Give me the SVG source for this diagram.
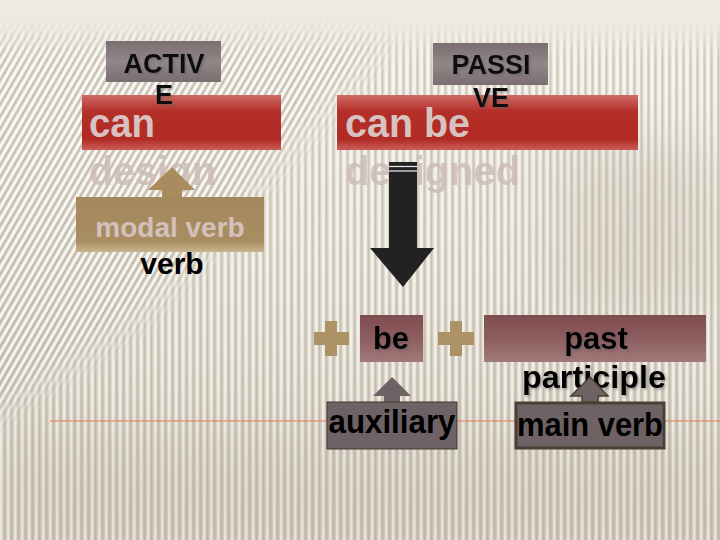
<svg xmlns="http://www.w3.org/2000/svg" width="720" height="540" viewBox="0 0 720 540">
<defs>
<linearGradient id="bg" x1="0" y1="0" x2="0" y2="1">
<stop offset="0" stop-color="#efebe3"/>
<stop offset="0.5" stop-color="#e4dfd4"/>
<stop offset="1" stop-color="#d3ccbe"/>
</linearGradient>
<pattern id="vstripe" width="7" height="10" patternUnits="userSpaceOnUse">
<rect x="0" y="0" width="2.5" height="10" fill="#ffffff" opacity="0.55"/>
<rect x="3.5" y="0" width="2" height="10" fill="#a09682" opacity="0.4"/>
</pattern>
<pattern id="dstripe" width="7" height="20" patternUnits="userSpaceOnUse" patternTransform="skewX(-30)">
<rect x="0" y="0" width="2.5" height="20" fill="#ffffff" opacity="0.8"/>
<rect x="3.5" y="0" width="2" height="20" fill="#9a907c" opacity="0.55"/>
</pattern>
<filter id="blur12" x="-50%" y="-50%" width="200%" height="200%"><feGaussianBlur stdDeviation="12"/></filter>
<filter id="blur20" x="-50%" y="-50%" width="200%" height="200%"><feGaussianBlur stdDeviation="20"/></filter>
<filter id="blur25" x="-50%" y="-50%" width="200%" height="200%"><feGaussianBlur stdDeviation="25"/></filter>
<mask id="mD"><polygon points="-40,40 390,40 140,320 -40,440" fill="#fff" filter="url(#blur12)"/></mask>
<mask id="mV"><rect x="-50" y="40" width="820" height="560" fill="#fff" filter="url(#blur12)"/><polygon points="-40,40 390,40 140,320 -40,440" fill="#000" filter="url(#blur12)"/></mask>
<filter id="sh" x="-10%" y="-10%" width="120%" height="130%"><feDropShadow dx="1.5" dy="1.5" stdDeviation="0.8" flood-color="#555" flood-opacity="0.5"/></filter>
<linearGradient id="gray" x1="0" y1="0" x2="0" y2="1">
<stop offset="0" stop-color="#7a6e70"/>
<stop offset="0.5" stop-color="#928688"/>
<stop offset="1" stop-color="#7a6e70"/>
</linearGradient>
<linearGradient id="red" x1="0" y1="0" x2="0" y2="1">
<stop offset="0" stop-color="#d06a66"/>
<stop offset="0.3" stop-color="#b42f28"/>
<stop offset="0.8" stop-color="#b12a24"/>
<stop offset="1" stop-color="#c85e58"/>
</linearGradient>
<linearGradient id="tan" x1="0" y1="0" x2="0" y2="1">
<stop offset="0" stop-color="#a5895c"/>
<stop offset="0.8" stop-color="#a88d62"/>
<stop offset="1" stop-color="#c9b48e"/>
</linearGradient>
<linearGradient id="mauve" x1="0" y1="0" x2="0" y2="1">
<stop offset="0" stop-color="#7f4c50"/>
<stop offset="0.5" stop-color="#8e5d60"/>
<stop offset="1" stop-color="#a07a7a"/>
</linearGradient>
<style>
text{font-family:"Liberation Sans",Arial,sans-serif;font-weight:bold}
.lbl{font-size:27px;fill:#111;text-anchor:middle}
.big{font-size:41px;fill:#d8c2c1}
.ghost{font-size:41px;fill:#cdbcbb;opacity:0.85}
.sub{font-size:30px;fill:#000;text-anchor:middle}
.box{font-size:31px;fill:#000;text-anchor:middle}
.plus{fill:#ad9265}
.gbox{fill:#6e6264}
</style>
</defs>
<rect width="720" height="540" fill="url(#bg)"/>
<rect width="720" height="540" fill="url(#vstripe)" mask="url(#mV)"/>
<rect width="720" height="540" fill="url(#dstripe)" mask="url(#mD)"/>
<path d="M560,150 Q640,135 720,150 V300 Q640,320 560,300 Z" fill="#b8ae9c" opacity="0.25" filter="url(#blur25)"/>
<rect x="0" y="430" width="720" height="110" fill="#b8ae9c" opacity="0.18" filter="url(#blur25)"/>

<g id="can-design">
<rect x="82" y="95" width="199" height="55" fill="url(#red)"/>
<text class="big" x="89" y="137" textLength="66" lengthAdjust="spacingAndGlyphs">can</text>
<text class="ghost" x="89" y="185" textLength="127" lengthAdjust="spacingAndGlyphs">design</text>
</g>
<g id="can-be-designed">
<rect x="337" y="95" width="301" height="55" fill="url(#red)"/>
<text class="big" x="345" y="137" textLength="125" lengthAdjust="spacingAndGlyphs">can be</text>
<text class="ghost" x="345" y="185" textLength="175" lengthAdjust="spacingAndGlyphs">designed</text>
</g>
<g id="active-label">
<rect x="106" y="41" width="115" height="41" fill="url(#gray)"/>
<text class="lbl" x="164" y="73" filter="url(#sh)">ACTIV</text>
<text class="lbl" x="164" y="104" filter="url(#sh)">E</text>
</g>
<g id="passive-label">
<rect x="433" y="43" width="115" height="42" fill="url(#gray)"/>
<text class="lbl" x="491" y="74" filter="url(#sh)">PASSI</text>
<text class="lbl" x="491" y="107" filter="url(#sh)">VE</text>
</g>

<g id="connectors">
<line x1="50" y1="421" x2="720" y2="421" stroke="#e07a5a" stroke-width="1.2"/>
<path d="M162,197 V190 H148 L172,167 L195,190 H182 V197 Z" fill="#a88c5e"/>
<path d="M389,162 H417 V248 H434 L403,287 L370,248 H389 Z" fill="#222"/>
<line x1="389" y1="166.5" x2="417" y2="166.5" stroke="#eee" stroke-width="1.2"/>
<line x1="389" y1="171" x2="417" y2="171" stroke="#eee" stroke-width="1.2"/>
<path d="M384,402 V396 H373 L392,377 L411,396 H400 V402 Z" fill="#6e6264"/>
</g>

<g id="modal-verb">
<rect x="76" y="197" width="188" height="55" fill="url(#tan)"/>
<text x="170" y="237" style="font-size:28px;fill:#d4c0bc;text-anchor:middle">modal verb</text>
<text class="sub" x="172" y="274">verb</text>
</g>
<g id="plus1">
<rect class="plus" x="314" y="332" width="35" height="13"/>
<rect class="plus" x="325" y="321" width="12" height="35"/>
</g>
<g id="be">
<rect x="360" y="315" width="63" height="47" fill="url(#mauve)"/>
<text class="box" x="391" y="349" filter="url(#sh)">be</text>
</g>
<g id="plus2">
<rect class="plus" x="438" y="332" width="36" height="13"/>
<rect class="plus" x="450" y="321" width="12" height="35"/>
</g>
<g id="past-participle">
<rect x="484" y="315" width="222" height="47" fill="url(#mauve)"/>
<text class="box" x="596" y="349" filter="url(#sh)">past</text>
<text class="box" x="594" y="388" textLength="144" lengthAdjust="spacingAndGlyphs" filter="url(#sh)">participle</text>
</g>
<g id="auxiliary">
<rect class="gbox" x="327" y="402" width="130" height="47" stroke="#3f3830" stroke-width="1"/>
<text x="392" y="433" style="font-size:34px;fill:#000;text-anchor:middle" textLength="127" lengthAdjust="spacingAndGlyphs">auxiliary</text>
</g>
<g id="main-verb">
<path d="M582,402 V396 H571 L590,377 L608,396 H598 V402 Z" fill="#6e6264" stroke="#4a4035" stroke-width="1.5"/>
<rect class="gbox" x="516" y="403" width="148" height="45" stroke="#4a4035" stroke-width="3"/>
<text x="590" y="436" style="font-size:34px;fill:#000;text-anchor:middle" textLength="146" lengthAdjust="spacingAndGlyphs">main verb</text>
</g>
</svg>
